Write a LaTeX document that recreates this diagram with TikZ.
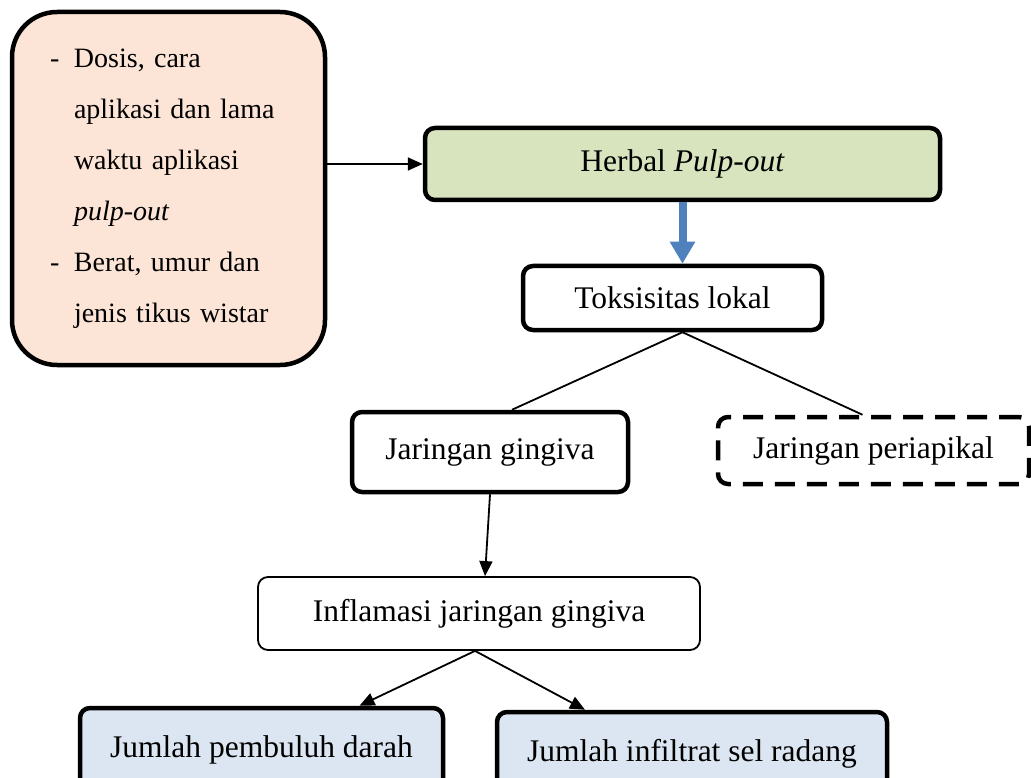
\documentclass[tikz,border=0pt]{standalone}
\usepackage{fontspec}
\setmainfont{Liberation Serif}
\usepackage{xcolor}
\usetikzlibrary{arrows.meta}
\definecolor{peach}{HTML}{FCE4D6}
\definecolor{herbgreen}{HTML}{D7E4BD}
\definecolor{paleblue}{HTML}{DCE6F2}
\definecolor{arrowblue}{HTML}{4F81BD}

\begin{document}
\begin{tikzpicture}[x=1pt,y=-1pt,
		box/.style={draw, line width=4.5pt, rounded corners=10pt, inner sep=0pt,
			font=\fontsize{31.5}{38}\selectfont},
		conn/.style={line width=1.8pt},
		arr/.style={conn, -{Triangle[length=15pt,width=13pt]}}]
				\useasboundingbox (0,0) rectangle (1031,778);
				\clip (0,0) rectangle (1031,778);
				
				% factor box (left)
				\node[box, fill=peach, rounded corners=45pt, minimum width=313pt, minimum height=353pt,
					text width=237pt, align=left, font=\fontsize{28}{51}\selectfont] (factors) at (168.5,188.5)
					{\makebox[24pt][l]{-}Dosis, cara\\
					\hspace*{24pt}aplikasi dan lama\\
					\hspace*{24pt}waktu aplikasi\\
					\hspace*{24pt}\textit{pulp-out}\\
					\makebox[24pt][l]{-}Berat, umur dan\\
					\hspace*{24pt}jenis tikus wistar};
				
				% main chain
				\node[box, fill=herbgreen, minimum width=515pt, minimum height=72pt] (herbal) at (682.5,164)
					{Herbal \textit{Pulp-out}};
				\node[box, fill=white, minimum width=299pt, minimum height=64pt] (toks) at (672.5,298)
					{Toksisitas lokal};
				\node[box, fill=white, minimum width=276pt, minimum height=80pt] (gingiva) at (490,452)
					{Jaringan gingiva};
				\node[box, dash pattern=on 20pt off 12pt, minimum width=311pt, minimum height=67pt] (periapikal) at (873.5,450.5)
					{Jaringan periapikal};
				\node[box, line width=1.8pt, minimum width=442pt, minimum height=73pt] (inflamasi) at (479,613.5)
					{Inflamasi jaringan gingiva};
				
				% outcome boxes (bottom)
				\node[box, fill=paleblue, minimum width=363pt, minimum height=84pt] (pembuluh) at (261.5,750)
					{Jumlah pembuluh darah};
				\node[box, fill=paleblue, minimum width=390pt, minimum height=83pt] (infiltrat) at (692,753.5)
					{Jumlah infiltrat sel radang};
				
				% connectors
				\draw[arr] (factors.east |- herbal.west) -- (herbal.west);
				\draw[line width=8pt, arrowblue, -{Triangle[length=22pt,width=24pt]}]
					(herbal.south) -- (herbal.south |- toks.north);
				\draw[conn] ([xshift=10pt]toks.south) -- ([xshift=22pt]gingiva.north);
				\draw[conn] ([xshift=10pt]toks.south) -- ([xshift=-11pt]periapikal.north);
				\draw[arr] (gingiva.south) -- ([xshift=-5pt]gingiva.south |- inflamasi.north);
				\draw[arr] ([xshift=-4pt]inflamasi.south) -- ([xshift=98pt]pembuluh.north);
				\draw[arr] ([xshift=-4pt]inflamasi.south) -- ([xshift=-107pt]infiltrat.north);
			\end{tikzpicture}
\end{document}
